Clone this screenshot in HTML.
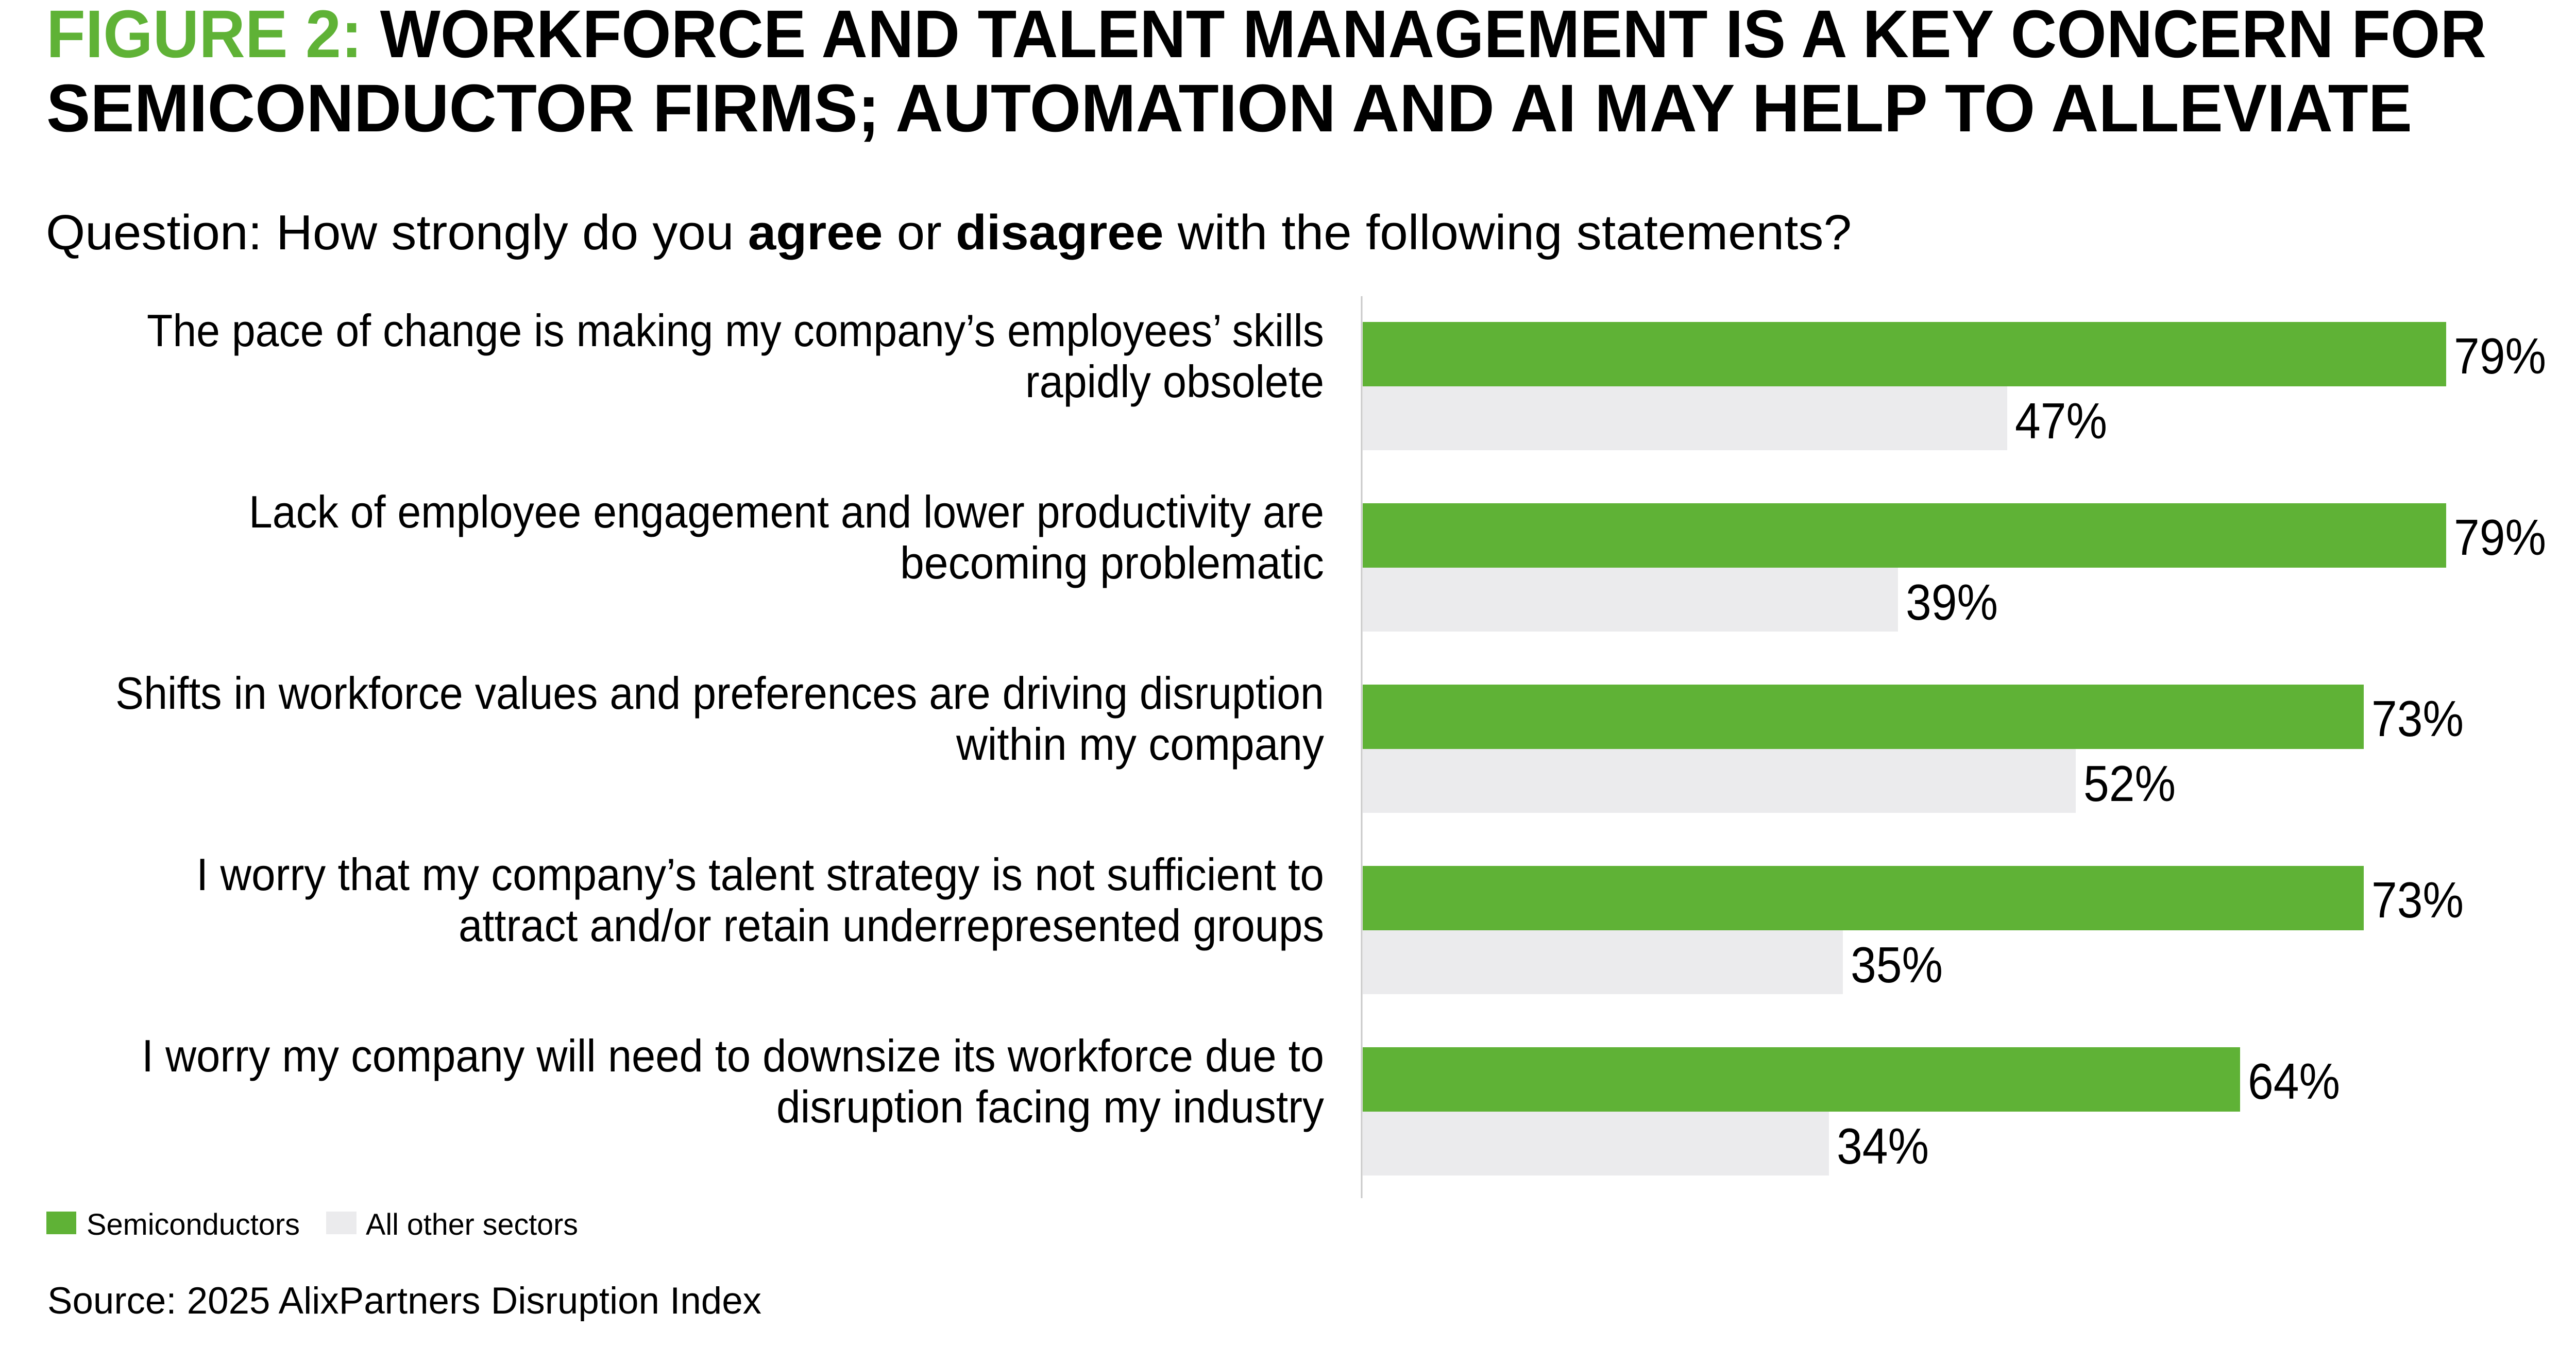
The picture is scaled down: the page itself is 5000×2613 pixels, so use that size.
<!DOCTYPE html>
<html><head><meta charset="utf-8"><style>html,body{margin:0;padding:0;background:#fff}svg{display:block}</style></head>
<body>
<svg width="5000" height="2613" xmlns="http://www.w3.org/2000/svg" font-family="Liberation Sans, sans-serif">
<rect width="5000" height="2613" fill="#fff"/>
<g font-weight="bold" font-size="131">
<text x="90" y="111" textLength="4736" lengthAdjust="spacingAndGlyphs"><tspan fill="#5fb236">FIGURE 2:</tspan> WORKFORCE AND TALENT MANAGEMENT IS A KEY CONCERN FOR</text>
<text x="90" y="255" textLength="4592" lengthAdjust="spacingAndGlyphs">SEMICONDUCTOR FIRMS; AUTOMATION AND AI MAY HELP TO ALLEVIATE</text>
</g>
<text x="89" y="484" font-size="96" textLength="3505" lengthAdjust="spacingAndGlyphs">Question: How strongly do you <tspan font-weight="bold">agree</tspan> or <tspan font-weight="bold">disagree</tspan> with the following statements?</text>
<line x1="2643" y1="575" x2="2643" y2="2326" stroke="#c8c8c8" stroke-width="3"/>
<g font-size="88" text-anchor="end">
<text x="2570" y="672" textLength="2285" lengthAdjust="spacingAndGlyphs">The pace of change is making my company’s employees’ skills</text>
<text x="2570" y="771" textLength="580" lengthAdjust="spacingAndGlyphs">rapidly obsolete</text>
<text x="2570" y="1024" textLength="2087" lengthAdjust="spacingAndGlyphs">Lack of employee engagement and lower productivity are</text>
<text x="2570" y="1123" textLength="823" lengthAdjust="spacingAndGlyphs">becoming problematic</text>
<text x="2570" y="1376" textLength="2346" lengthAdjust="spacingAndGlyphs">Shifts in workforce values and preferences are driving disruption</text>
<text x="2570" y="1475" textLength="714" lengthAdjust="spacingAndGlyphs">within my company</text>
<text x="2570" y="1728" textLength="2189" lengthAdjust="spacingAndGlyphs">I worry that my company’s talent strategy is not sufficient to</text>
<text x="2570" y="1827" textLength="1680" lengthAdjust="spacingAndGlyphs">attract and/or retain underrepresented groups</text>
<text x="2570" y="2080" textLength="2295" lengthAdjust="spacingAndGlyphs">I worry my company will need to downsize its workforce due to</text>
<text x="2570" y="2179" textLength="1063" lengthAdjust="spacingAndGlyphs">disruption facing my industry</text>
</g>
<g>
<rect x="2645" y="625" width="2103" height="125" fill="#5fb236"/>
<rect x="2645" y="750" width="1251" height="124" fill="#ebebed"/>
<rect x="2645" y="977" width="2103" height="125" fill="#5fb236"/>
<rect x="2645" y="1102" width="1039" height="124" fill="#ebebed"/>
<rect x="2645" y="1329" width="1943" height="125" fill="#5fb236"/>
<rect x="2645" y="1454" width="1384" height="124" fill="#ebebed"/>
<rect x="2645" y="1681" width="1943" height="125" fill="#5fb236"/>
<rect x="2645" y="1806" width="932" height="124" fill="#ebebed"/>
<rect x="2645" y="2033" width="1703" height="125" fill="#5fb236"/>
<rect x="2645" y="2158" width="905" height="124" fill="#ebebed"/>
</g>
<g font-size="98">
<text x="4763" y="725" textLength="179" lengthAdjust="spacingAndGlyphs">79%</text>
<text x="3911" y="851" textLength="179" lengthAdjust="spacingAndGlyphs">47%</text>
<text x="4763" y="1077" textLength="179" lengthAdjust="spacingAndGlyphs">79%</text>
<text x="3699" y="1203" textLength="179" lengthAdjust="spacingAndGlyphs">39%</text>
<text x="4603" y="1429" textLength="179" lengthAdjust="spacingAndGlyphs">73%</text>
<text x="4044" y="1555" textLength="179" lengthAdjust="spacingAndGlyphs">52%</text>
<text x="4603" y="1781" textLength="179" lengthAdjust="spacingAndGlyphs">73%</text>
<text x="3592" y="1907" textLength="179" lengthAdjust="spacingAndGlyphs">35%</text>
<text x="4363" y="2133" textLength="179" lengthAdjust="spacingAndGlyphs">64%</text>
<text x="3565" y="2259" textLength="179" lengthAdjust="spacingAndGlyphs">34%</text>
</g>
<rect x="90" y="2352" width="58" height="44" fill="#5fb236"/>
<text x="168" y="2397" font-size="58" textLength="414" lengthAdjust="spacingAndGlyphs">Semiconductors</text>
<rect x="633" y="2352" width="59" height="44" fill="#ebebed"/>
<text x="710" y="2397" font-size="58" textLength="412" lengthAdjust="spacingAndGlyphs">All other sectors</text>
<text x="92" y="2550" font-size="73" textLength="1386" lengthAdjust="spacingAndGlyphs">Source: 2025 AlixPartners Disruption Index</text>
</svg>
</body></html>
